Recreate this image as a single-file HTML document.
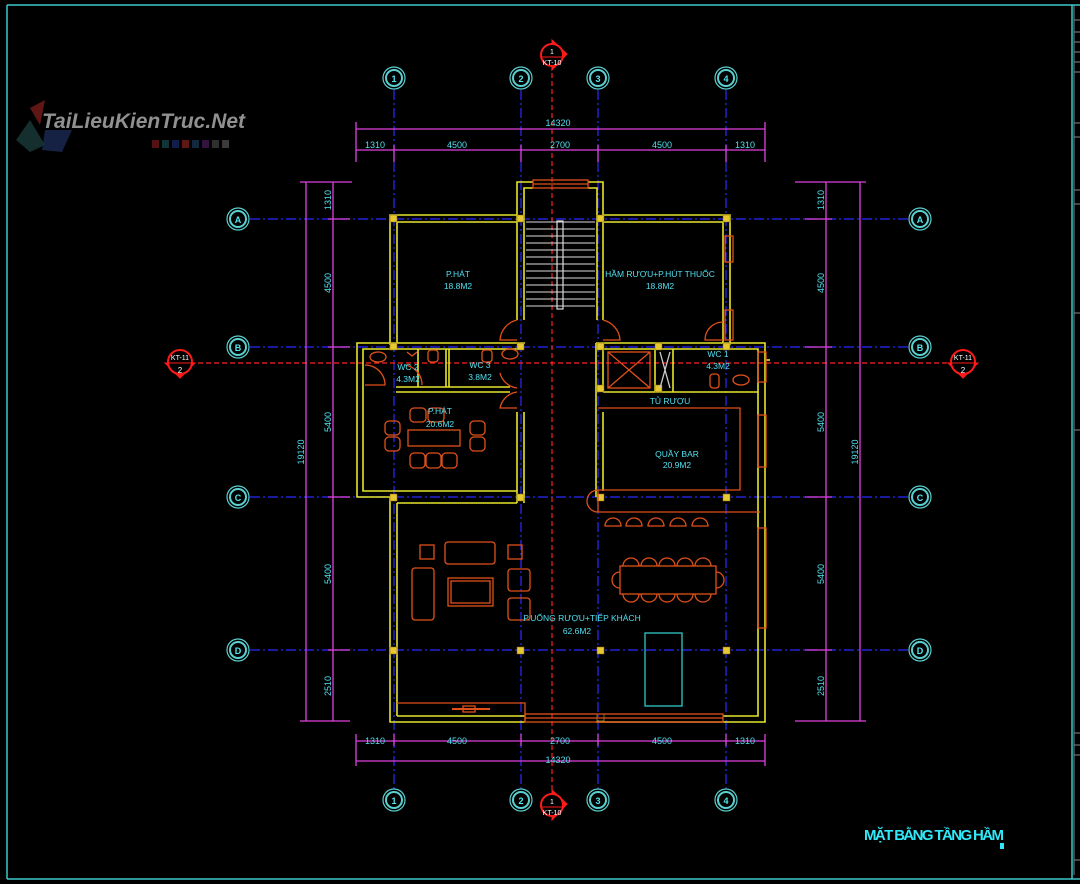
<!DOCTYPE html>
<html><head><meta charset="utf-8"><style>
html,body{margin:0;padding:0;background:#000;}
svg{display:block;}
text{font-family:"Liberation Sans Narrow","Liberation Sans",sans-serif;}
</style></head><body>
<svg width="1080" height="884" viewBox="0 0 1080 884" xmlns="http://www.w3.org/2000/svg">
<rect width="1080" height="884" fill="#000"/>
<!-- frame -->
<g stroke="#3cc8cc" fill="none" stroke-width="1.5">
<line x1="7" y1="5" x2="7" y2="879"/>
<line x1="7" y1="879" x2="1080" y2="879"/>
<line x1="7" y1="5" x2="1080" y2="5"/>
<line x1="1072" y1="5" x2="1072" y2="879"/>
</g>
<g stroke="#888" fill="none" stroke-width="1">
<line x1="1074" y1="5" x2="1074" y2="875"/>
<line x1="1074" y1="20" x2="1080" y2="20"/><line x1="1074" y1="32" x2="1080" y2="32"/><line x1="1074" y1="42" x2="1080" y2="42"/><line x1="1074" y1="52" x2="1080" y2="52"/><line x1="1074" y1="62" x2="1080" y2="62"/><line x1="1074" y1="72" x2="1080" y2="72"/>
<line x1="1074" y1="123" x2="1080" y2="123"/><line x1="1074" y1="137" x2="1080" y2="137"/><line x1="1074" y1="190" x2="1080" y2="190"/><line x1="1074" y1="204" x2="1080" y2="204"/><line x1="1074" y1="313" x2="1080" y2="313"/><line x1="1074" y1="430" x2="1080" y2="430"/><line x1="1074" y1="733" x2="1080" y2="733"/><line x1="1074" y1="745" x2="1080" y2="745"/><line x1="1074" y1="755" x2="1080" y2="755"/><line x1="1074" y1="860" x2="1080" y2="860"/>
</g>
<!-- logo -->
<text x="42" y="128" font-family="Liberation Sans,sans-serif" font-style="italic" font-weight="bold" font-size="21" fill="#aaa" opacity="0.85">TaiLieuKienTruc.Net</text>
<path d="M30 108 L45 100 L40 125 Z" fill="#8a2020" opacity="0.7"/>
<path d="M16 140 L30 120 L45 145 L30 152 Z" fill="#1a3a3a" opacity="0.8"/>
<path d="M45 130 L72 130 L62 152 L42 150 Z" fill="#1a2a55" opacity="0.8"/>
<g opacity="0.7"><rect x="152" y="140" width="7" height="8" fill="#7a1a1a"/><rect x="162" y="140" width="7" height="8" fill="#1a4a4a"/><rect x="172" y="140" width="7" height="8" fill="#1a2a6a"/><rect x="182" y="140" width="7" height="8" fill="#8a2020"/><rect x="192" y="140" width="7" height="8" fill="#1a3a5a"/><rect x="202" y="140" width="7" height="8" fill="#4a1a5a"/><rect x="212" y="140" width="7" height="8" fill="#444"/><rect x="222" y="140" width="7" height="8" fill="#555"/></g>

<!-- grid lines -->
<g stroke="#2a2aff" stroke-width="1.2" stroke-dasharray="10 3 2 3" fill="none">
<line x1="394" y1="90" x2="394" y2="790"/>
<line x1="521" y1="90" x2="521" y2="790"/>
<line x1="598" y1="90" x2="598" y2="790"/>
<line x1="726" y1="90" x2="726" y2="790"/>
<line x1="250" y1="219" x2="908" y2="219"/>
<line x1="250" y1="347" x2="908" y2="347"/>
<line x1="250" y1="497" x2="908" y2="497"/>
<line x1="250" y1="650" x2="908" y2="650"/>
</g>
<!-- section lines -->
<g stroke="#ff2020" stroke-width="1.2" stroke-dasharray="5 3" fill="none">
<line x1="552" y1="65" x2="552" y2="795"/>
<line x1="190" y1="363" x2="950" y2="363"/>
</g>
<!-- section markers -->
<g fill="#ff1a1a" stroke="#ff1a1a">
<path d="M552 40 L567 54 L552 70 Z"/><circle cx="552" cy="55" r="11" fill="#000" stroke-width="2"/>
<path d="M552 790 L567 804 L552 820 Z"/><circle cx="552" cy="805" r="11" fill="#000" stroke-width="2"/>
<path d="M165 363 L180 378 L195 363 Z"/><circle cx="180" cy="362" r="12" fill="#000" stroke-width="2"/>
<path d="M948 363 L963 378 L978 363 Z"/><circle cx="963" cy="362" r="12" fill="#000" stroke-width="2"/>
<line x1="542" y1="57" x2="562" y2="57" stroke-width="1"/><line x1="542" y1="807" x2="562" y2="807" stroke-width="1"/>
<line x1="168" y1="363" x2="192" y2="363" stroke-width="1"/><line x1="951" y1="363" x2="975" y2="363" stroke-width="1"/>
</g>
<g fill="#fff" font-size="7" text-anchor="middle">
<text x="552" y="54">1</text><text x="552" y="65">KT-10</text>
<text x="552" y="804">1</text><text x="552" y="815">KT-10</text>
<text x="180" y="360">KT-11</text><text x="180" y="373" font-size="8">2</text>
<text x="963" y="360">KT-11</text><text x="963" y="373" font-size="8">2</text>
</g>
<!-- grid bubbles -->
<g stroke="#5ad0d0" fill="none" stroke-width="1.2">
<circle cx="394" cy="78" r="11"/><circle cx="521" cy="78" r="11"/><circle cx="598" cy="78" r="11"/><circle cx="726" cy="78" r="11"/>
<circle cx="394" cy="800" r="11"/><circle cx="521" cy="800" r="11"/><circle cx="598" cy="800" r="11"/><circle cx="726" cy="800" r="11"/>
<circle cx="238" cy="219" r="11"/><circle cx="238" cy="347" r="11"/><circle cx="238" cy="497" r="11"/><circle cx="238" cy="650" r="11"/>
<circle cx="920" cy="219" r="11"/><circle cx="920" cy="347" r="11"/><circle cx="920" cy="497" r="11"/><circle cx="920" cy="650" r="11"/>
</g>
<g stroke="#5ad0d0" fill="none" stroke-width="2">
<circle cx="394" cy="78" r="8"/><circle cx="521" cy="78" r="8"/><circle cx="598" cy="78" r="8"/><circle cx="726" cy="78" r="8"/>
<circle cx="394" cy="800" r="8"/><circle cx="521" cy="800" r="8"/><circle cx="598" cy="800" r="8"/><circle cx="726" cy="800" r="8"/>
<circle cx="238" cy="219" r="8"/><circle cx="238" cy="347" r="8"/><circle cx="238" cy="497" r="8"/><circle cx="238" cy="650" r="8"/>
<circle cx="920" cy="219" r="8"/><circle cx="920" cy="347" r="8"/><circle cx="920" cy="497" r="8"/><circle cx="920" cy="650" r="8"/>
</g>
<g fill="#50e8f0" font-size="9" font-weight="bold" text-anchor="middle">
<text x="394" y="82">1</text><text x="521" y="82">2</text><text x="598" y="82">3</text><text x="726" y="82">4</text>
<text x="394" y="804">1</text><text x="521" y="804">2</text><text x="598" y="804">3</text><text x="726" y="804">4</text>
<text x="238" y="223">A</text><text x="238" y="351">B</text><text x="238" y="501">C</text><text x="238" y="654">D</text>
<text x="920" y="223">A</text><text x="920" y="351">B</text><text x="920" y="501">C</text><text x="920" y="654">D</text>
</g>
<!-- dimensions -->
<g stroke="#e040e0" stroke-width="1.3" fill="none">
<line x1="356" y1="129" x2="765" y2="129"/><line x1="356" y1="150" x2="765" y2="150"/>
<line x1="356" y1="122" x2="356" y2="162"/><line x1="765" y1="122" x2="765" y2="162"/>
<line x1="394" y1="145" x2="394" y2="162"/><line x1="521" y1="145" x2="521" y2="162"/><line x1="598" y1="145" x2="598" y2="162"/><line x1="726" y1="145" x2="726" y2="162"/>
<line x1="356" y1="741" x2="765" y2="741"/><line x1="356" y1="761" x2="765" y2="761"/>
<line x1="356" y1="734" x2="356" y2="766"/><line x1="765" y1="734" x2="765" y2="766"/>
<line x1="394" y1="734" x2="394" y2="746"/><line x1="521" y1="734" x2="521" y2="746"/><line x1="598" y1="734" x2="598" y2="746"/><line x1="726" y1="734" x2="726" y2="746"/>
<line x1="306" y1="182" x2="306" y2="721"/><line x1="333" y1="182" x2="333" y2="721"/>
<line x1="300" y1="182" x2="352" y2="182"/><line x1="300" y1="721" x2="350" y2="721"/>
<line x1="328" y1="219" x2="350" y2="219"/><line x1="328" y1="347" x2="350" y2="347"/><line x1="328" y1="497" x2="350" y2="497"/><line x1="328" y1="650" x2="350" y2="650"/>
<line x1="826" y1="182" x2="826" y2="721"/><line x1="860" y1="182" x2="860" y2="721"/>
<line x1="795" y1="182" x2="866" y2="182"/><line x1="795" y1="721" x2="866" y2="721"/>
<line x1="805" y1="219" x2="832" y2="219"/><line x1="805" y1="347" x2="832" y2="347"/><line x1="805" y1="497" x2="832" y2="497"/><line x1="805" y1="650" x2="832" y2="650"/>
</g>
<g fill="#50e0f0" font-size="9" text-anchor="middle">
<text x="558" y="126">14320</text>
<text x="375" y="148">1310</text><text x="457" y="148">4500</text><text x="560" y="148">2700</text><text x="662" y="148">4500</text><text x="745" y="148">1310</text>
<text x="375" y="744">1310</text><text x="457" y="744">4500</text><text x="560" y="744">2700</text><text x="662" y="744">4500</text><text x="745" y="744">1310</text>
<text x="558" y="763">14320</text>
<text transform="translate(304,452) rotate(-90)">19120</text>
<text transform="translate(331,200) rotate(-90)">1310</text>
<text transform="translate(331,283) rotate(-90)">4500</text>
<text transform="translate(331,422) rotate(-90)">5400</text>
<text transform="translate(331,574) rotate(-90)">5400</text>
<text transform="translate(331,686) rotate(-90)">2510</text>
<text transform="translate(858,452) rotate(-90)">19120</text>
<text transform="translate(824,200) rotate(-90)">1310</text>
<text transform="translate(824,283) rotate(-90)">4500</text>
<text transform="translate(824,422) rotate(-90)">5400</text>
<text transform="translate(824,574) rotate(-90)">5400</text>
<text transform="translate(824,686) rotate(-90)">2510</text>
</g>

<!-- walls -->
<g stroke="#e6e62a" stroke-width="1.6" fill="none">
<!-- stair -->
<polyline points="517,219 517,182 533,182"/><polyline points="524,219 524,188 533,188"/>
<polyline points="603,219 603,182 588,182"/><polyline points="597,219 597,188 588,188"/>
<!-- upper left room -->
<polyline points="517,215 390,215 390,345"/><polyline points="517,222 397,222 397,343"/>
<line x1="517" y1="219" x2="517" y2="320"/><line x1="524" y1="219" x2="524" y2="320"/>
<!-- upper right room -->
<polyline points="603,215 730,215 730,345"/><polyline points="603,222 723,222 723,343"/>
<line x1="597" y1="219" x2="597" y2="320"/><line x1="603" y1="219" x2="603" y2="320"/>
<!-- left wing -->
<polyline points="525,343 357,343 357,497 390,497 390,722 525,722"/>
<polyline points="517,349 363,349 363,491 517,491"/>
<line x1="397" y1="503" x2="397" y2="716"/><line x1="397" y1="716" x2="525" y2="716"/>
<line x1="397" y1="503" x2="517" y2="503"/>
<line x1="517" y1="491" x2="517" y2="503"/><line x1="524" y1="491" x2="524" y2="503"/>
<line x1="517" y1="412" x2="517" y2="491"/><line x1="524" y1="412" x2="524" y2="497"/>
<line x1="396" y1="387" x2="510" y2="387"/><line x1="396" y1="392" x2="510" y2="392"/>
<line x1="446" y1="349" x2="446" y2="387"/><line x1="449" y1="349" x2="449" y2="387"/>
<line x1="418" y1="349" x2="418" y2="387"/>
<!-- right wing -->
<polyline points="596,343 765,343 765,722 596,722"/>
<polyline points="603,349 758,349 758,716 723,716"/>
<line x1="596" y1="343" x2="596" y2="412"/><line x1="603" y1="349" x2="603" y2="392"/>
<line x1="603" y1="392" x2="758" y2="392"/>
<line x1="596" y1="412" x2="596" y2="497"/><line x1="603" y1="412" x2="603" y2="491"/>
<line x1="655" y1="349" x2="655" y2="392"/><line x1="673" y1="349" x2="673" y2="392"/>
<line x1="765" y1="360" x2="770" y2="360"/>
</g>
<!-- columns -->
<g fill="#e6c830" stroke="#8a6a10" stroke-width="0.5">
<rect x="390" y="215" width="7" height="7"/><rect x="517" y="215" width="7" height="7"/><rect x="597" y="215" width="7" height="7"/><rect x="723" y="215" width="7" height="7"/>
<rect x="390" y="343" width="7" height="7"/><rect x="517" y="343" width="7" height="7"/><rect x="597" y="343" width="7" height="7"/><rect x="655" y="343" width="7" height="7"/><rect x="723" y="343" width="7" height="7"/>
<rect x="597" y="385" width="7" height="7"/><rect x="655" y="385" width="7" height="7"/>
<rect x="390" y="494" width="7" height="7"/><rect x="517" y="494" width="7" height="7"/><rect x="597" y="494" width="7" height="7"/><rect x="723" y="494" width="7" height="7"/>
<rect x="390" y="647" width="7" height="7"/><rect x="517" y="647" width="7" height="7"/><rect x="597" y="647" width="7" height="7"/><rect x="723" y="647" width="7" height="7"/>
<rect x="597" y="714" width="7" height="7" fill="none" stroke="#e6e62a"/>
</g>
<!-- stair treads -->
<g stroke="#ddd" stroke-width="1">
<line x1="526" y1="222" x2="595" y2="222"/><line x1="526" y1="229" x2="595" y2="229"/><line x1="526" y1="236" x2="595" y2="236"/><line x1="526" y1="243" x2="595" y2="243"/><line x1="526" y1="250" x2="595" y2="250"/><line x1="526" y1="257" x2="595" y2="257"/><line x1="526" y1="264" x2="595" y2="264"/><line x1="526" y1="271" x2="595" y2="271"/><line x1="526" y1="278" x2="595" y2="278"/><line x1="526" y1="285" x2="595" y2="285"/><line x1="526" y1="292" x2="595" y2="292"/><line x1="526" y1="299" x2="595" y2="299"/><line x1="526" y1="306" x2="595" y2="306"/>
</g>
<rect x="557" y="221" width="6" height="88" fill="none" stroke="#ddd" stroke-width="1.2"/>

<!-- orange elements -->
<g stroke="#e0501a" stroke-width="1.3" fill="none">
<rect x="533" y="180" width="55" height="8"/><line x1="533" y1="184" x2="588" y2="184"/>
<rect x="725" y="236" width="8" height="26"/><rect x="725" y="310" width="8" height="30"/>
<rect x="758" y="415" width="8" height="52"/><rect x="758" y="528" width="8" height="100"/>
<rect x="758" y="352" width="8" height="30"/>
<!-- doors -->
<path d="M517 320 A22 22 0 0 0 500 340 L517 340"/>
<path d="M603 320 A22 22 0 0 1 620 340 L603 340"/>
<path d="M723 322 A18 18 0 0 0 705 340 L723 340"/>
<path d="M517 392 A20 20 0 0 0 500 408 L517 408"/>
<path d="M517 388 A20 20 0 0 1 500 373"/>
<path d="M365 365 A20 20 0 0 1 385 385 L365 385"/>
<path d="M405 365 A20 20 0 0 1 422 385"/>
<!-- fixtures -->
<ellipse cx="378" cy="357" rx="8" ry="5"/><ellipse cx="510" cy="354" rx="8" ry="5"/>
<rect x="428" y="350" width="10" height="12" rx="3"/><rect x="482" y="350" width="10" height="12" rx="3"/>
<path d="M407 352 l5 4 l5 -4"/>
<ellipse cx="741" cy="380" rx="8" ry="5"/><rect x="710" y="374" width="9" height="14" rx="3"/>
<!-- elevator -->
<rect x="608" y="352" width="42" height="36"/><line x1="608" y1="352" x2="650" y2="388"/><line x1="650" y1="352" x2="608" y2="388"/>
<path d="M660 352 L670 388 M670 352 L660 388" stroke="#ccc"/>
<!-- bar counter -->
<polyline points="598,408 740,408 740,490 598,490"/>
<path d="M598 490 A11 11 0 0 0 598 512 L760 512"/>
<line x1="598" y1="490" x2="598" y2="512"/>
<!-- karaoke sofa set -->
<rect x="410" y="408" width="16" height="14" rx="4"/><rect x="428" y="408" width="16" height="14" rx="4"/>
<rect x="408" y="430" width="52" height="16"/>
<rect x="385" y="421" width="15" height="14" rx="4"/><rect x="385" y="437" width="15" height="14" rx="4"/>
<rect x="470" y="421" width="15" height="14" rx="4"/><rect x="470" y="437" width="15" height="14" rx="4"/>
<rect x="410" y="453" width="15" height="15" rx="4"/><rect x="426" y="453" width="15" height="15" rx="4"/><rect x="442" y="453" width="15" height="15" rx="4"/>
<!-- living set -->
<rect x="420" y="545" width="14" height="14"/><rect x="508" y="545" width="14" height="14"/>
<rect x="445" y="542" width="50" height="22" rx="3"/>
<rect x="412" y="568" width="22" height="52" rx="3"/>
<rect x="448" y="578" width="45" height="28"/><rect x="451" y="581" width="39" height="22"/>
<rect x="508" y="569" width="22" height="22" rx="3"/><rect x="508" y="598" width="22" height="22" rx="3"/>
<!-- bar stools -->
<path d="M605 526 a8 8 0 1 1 16 0 z M626 526 a8 8 0 1 1 16 0 z M648 526 a8 8 0 1 1 16 0 z M670 526 a8 8 0 1 1 16 0 z M692 526 a8 8 0 1 1 16 0 z"/>
<!-- dining table -->
<rect x="620" y="566" width="96" height="28"/>
<path d="M623 566 a8 8 0 1 1 16 0 M641 566 a8 8 0 1 1 16 0 M659 566 a8 8 0 1 1 16 0 M677 566 a8 8 0 1 1 16 0 M695 566 a8 8 0 1 1 16 0"/>
<path d="M623 594 a8 8 0 1 0 16 0 M641 594 a8 8 0 1 0 16 0 M659 594 a8 8 0 1 0 16 0 M677 594 a8 8 0 1 0 16 0 M695 594 a8 8 0 1 0 16 0"/>
<path d="M620 572 a8 8 0 1 0 0 16 M716 572 a8 8 0 1 1 0 16"/>
<!-- bottom -->
<polyline points="397,703 525,703 525,722"/>
<line x1="452" y1="709" x2="490" y2="709" stroke-width="2"/><rect x="463" y="706" width="12" height="6"/>
<rect x="525" y="714" width="198" height="8"/><line x1="525" y1="718" x2="723" y2="718"/>
</g>
<rect x="645" y="633" width="37" height="73" fill="none" stroke="#30c8c8" stroke-width="1.3"/>

<!-- room labels -->
<g fill="#50e0f0" font-size="8.5" text-anchor="middle">
<text x="458" y="277">P.HÁT</text><text x="458" y="289">18.8M2</text>
<text x="660" y="277">HẦM RƯỢU+P.HÚT THUỐC</text><text x="660" y="289">18.8M2</text>
<text x="408" y="370">WC 2</text><text x="408" y="382">4.3M2</text>
<text x="480" y="368">WC 3</text><text x="480" y="380">3.8M2</text>
<text x="718" y="357">WC 1</text><text x="718" y="369">4.3M2</text>
<text x="440" y="414">P.HÁT</text><text x="440" y="427">20.6M2</text>
<text x="670" y="404">TỦ RƯỢU</text>
<text x="677" y="457">QUẦY BAR</text><text x="677" y="468">20.9M2</text>
<text x="582" y="621">P.UỐNG RƯỢU+TIẾP KHÁCH</text><text x="577" y="634">62.6M2</text>
</g>
<text x="864" y="840" font-family="Liberation Sans,sans-serif" font-weight="bold" font-size="15" fill="#30e8f8" textLength="140">MẶT BẰNG TẦNG HẦM</text>
<rect x="1000" y="843" width="4" height="6" fill="#30e8f8"/>
</svg>
</body></html>
